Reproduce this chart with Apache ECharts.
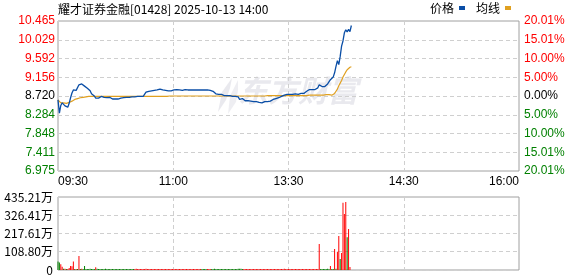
<!DOCTYPE html>
<html>
<head>
<meta charset="utf-8">
<script src="https://cdn.jsdelivr.net/npm/echarts@6/dist/echarts.min.js"></script>
<style>
html,body{margin:0;padding:0;background:#fff;}
#chart{width:578px;height:276px;}
</style>
</head>
<body>
<div id="chart"></div>
<script>
const titleText = '耀才证券金融[01428] 2025-10-13 14:00';
const prevClose = 8.72;
const timeTicks = ['09:30', '11:00', '13:30', '14:30', '16:00'];
const priceTicks = ['6.975', '7.411', '7.848', '8.284', '8.720', '9.156', '9.592', '10.029', '10.465'];
const pctTicks = ['20.01%', '15.01%', '10.00%', '5.00%', '0.00%', '5.00%', '10.00%', '15.01%', '20.01%'];
const volTicks = ['0', '108.80万', '217.61万', '326.41万', '435.21万'];

// minute-by-minute price (from 09:30)
const price = [
  8.63, 8.32, 8.50, 8.56, 8.52, 8.49, 8.50, 8.46, 8.55, 8.68,
  8.79, 8.86, 8.86, 8.85, 8.86, 8.98, 8.96, 9.00, 8.99, 8.95,
  8.92, 8.90, 8.87, 8.84, 8.77, 8.77, 8.72, 8.67, 8.68, 8.67,
  8.70, 8.71, 8.71, 8.69, 8.70, 8.68, 8.67, 8.69, 8.66, 8.65,
  8.63, 8.65, 8.66, 8.65, 8.66, 8.67, 8.67, 8.68, 8.68, 8.69,
  8.69, 8.69, 8.70, 8.70, 8.70, 8.70, 8.71, 8.71, 8.71, 8.71,
  8.71, 8.71, 8.71, 8.81, 8.82, 8.83, 8.84, 8.84, 8.84, 8.85,
  8.84, 8.86, 8.87, 8.88, 8.87, 8.86, 8.86, 8.85, 8.85, 8.84,
  8.85, 8.84, 8.85, 8.86, 8.86, 8.87, 8.86, 8.86, 8.86, 8.85,
  8.86, 8.87, 8.87, 8.86, 8.86, 8.86, 8.85, 8.86, 8.86, 8.86,
  8.87, 8.86, 8.86, 8.86, 8.86, 8.86, 8.86, 8.86, 8.85, 8.85,
  8.84, 8.83, 8.79, 8.77, 8.74, 8.76, 8.74, 8.76, 8.75, 8.73,
  8.74, 8.73, 8.72, 8.73, 8.72, 8.71, 8.72, 8.71, 8.72, 8.70,
  8.64, 8.63, 8.66, 8.62, 8.61, 8.60, 8.61, 8.60, 8.60, 8.59,
  8.59, 8.58, 8.59, 8.58, 8.57, 8.56, 8.56, 8.58, 8.59, 8.59,
  8.59, 8.60, 8.60, 8.62, 8.64, 8.65, 8.66, 8.67, 8.68, 8.69,
  8.71, 8.73, 8.74, 8.76, 8.76, 8.76, 8.76, 8.77, 8.76, 8.76,
  8.77, 8.76, 8.76, 8.77, 8.78, 8.80, 8.78, 8.79, 8.83, 8.87,
  8.87, 8.86, 8.87, 8.87, 8.87, 8.88, 8.91, 8.98, 8.95, 8.94,
  8.95, 8.94, 8.95, 9.00, 9.04, 9.10, 9.13, 9.16, 9.26, 9.41,
  9.54, 9.45, 9.64, 9.88, 10.00, 10.19, 10.26, 10.21, 10.27, 10.22,
  10.36
];

// minute-by-minute average price
const avgPrice = [
  8.63, 8.60, 8.56, 8.56, 8.56, 8.55, 8.55, 8.55, 8.57, 8.59,
  8.60, 8.62, 8.64, 8.65, 8.66, 8.67, 8.68, 8.68, 8.69, 8.70,
  8.70, 8.71, 8.71, 8.71, 8.71, 8.71, 8.71, 8.71, 8.71, 8.71,
  8.71, 8.71, 8.71, 8.71, 8.71, 8.71, 8.71, 8.71, 8.71, 8.71,
  8.71, 8.71, 8.71, 8.71, 8.71, 8.71, 8.71, 8.71, 8.71, 8.71,
  8.71, 8.71, 8.71, 8.71, 8.71, 8.71, 8.71, 8.71, 8.71, 8.71,
  8.71, 8.71, 8.71, 8.71, 8.71, 8.71, 8.71, 8.71, 8.71, 8.71,
  8.71, 8.71, 8.71, 8.71, 8.71, 8.71, 8.71, 8.71, 8.71, 8.71,
  8.72, 8.72, 8.72, 8.72, 8.72, 8.72, 8.72, 8.72, 8.72, 8.72,
  8.72, 8.72, 8.72, 8.72, 8.72, 8.72, 8.72, 8.72, 8.72, 8.72,
  8.72, 8.72, 8.72, 8.72, 8.72, 8.72, 8.72, 8.72, 8.72, 8.72,
  8.72, 8.72, 8.72, 8.72, 8.72, 8.72, 8.72, 8.72, 8.72, 8.72,
  8.72, 8.72, 8.72, 8.72, 8.72, 8.72, 8.72, 8.72, 8.72, 8.72,
  8.72, 8.72, 8.72, 8.72, 8.72, 8.72, 8.72, 8.72, 8.72, 8.72,
  8.72, 8.72, 8.72, 8.72, 8.72, 8.72, 8.72, 8.72, 8.72, 8.72,
  8.73, 8.73, 8.73, 8.73, 8.73, 8.73, 8.73, 8.73, 8.73, 8.73,
  8.73, 8.73, 8.73, 8.73, 8.73, 8.73, 8.73, 8.73, 8.73, 8.73,
  8.73, 8.73, 8.73, 8.73, 8.73, 8.73, 8.73, 8.73, 8.73, 8.73,
  8.74, 8.74, 8.74, 8.74, 8.74, 8.74, 8.74, 8.74, 8.74, 8.74,
  8.74, 8.75, 8.75, 8.75, 8.75, 8.75, 8.74, 8.76, 8.78, 8.83,
  8.88, 8.96, 9.02, 9.08, 9.16, 9.22, 9.28, 9.33, 9.37, 9.39,
  9.40
];

// minute volume (万)
const volume = [
  50, 45, 34, 20, 7, 8, 6, 5, 12, 24,
  22, 50, 6, 6, 5, 83, 6, 8, 6, 24,
  6, 6, 5, 7, 6, 5, 6, 16, 7, 5,
  6, 5, 6, 5, 7, 5, 6, 5, 6, 5,
  5, 6, 5, 6, 5, 5, 6, 5, 5, 6,
  5, 6, 5, 5, 6, 5, 7, 6, 6, 5,
  6, 5, 6, 7, 6, 5, 6, 5, 6, 5,
  6, 5, 5, 6, 5, 6, 5, 5, 6, 5,
  5, 6, 5, 5, 5, 6, 5, 5, 6, 5,
  5, 5, 6, 5, 5, 5, 6, 5, 5, 5,
  5, 5, 5, 5, 6, 5, 5, 5, 5, 5,
  5, 6, 7, 6, 6, 5, 6, 5, 5, 5,
  5, 5, 5, 5, 6, 5, 5, 5, 6, 7,
  8, 7, 6, 6, 5, 5, 5, 5, 5, 6,
  5, 5, 6, 5, 5, 5, 5, 6, 5, 5,
  5, 5, 5, 5, 6, 5, 5, 5, 5, 6,
  5, 6, 8, 6, 5, 5, 5, 6, 5, 5,
  5, 5, 6, 5, 5, 6, 5, 5, 5, 5,
  5, 5, 5, 6, 5, 5, 6, 155, 6, 6,
  5, 6, 6, 7, 6, 24, 5, 5, 125, 8,
  109, 203, 66, 101, 401, 334, 405, 195, 244, 18
];

// bar colour: 'r' = up, 'g' = down
const volDir = (
  'ggrrgrgrrr' + 'rrgrgrgrgg' + 'gggggggrgg' + 'gggggggggg' + 'gggggggggg' +
  'gggggrrrrr' + 'rrrrrrrrrr' + 'rrrrrrrrrr' + 'rrrrrrrrrr' + 'rrrrrrrrrr' +
  'rrrggggrrr' + 'gggggggggg' + 'gggggggggg' + 'gggrrrrrrr' + 'rrrrrrrrrr' +
  'rrrrrrrrrr' + 'rrrrrrrrrr' + 'rrrrrrrrrr' + 'rrrrrrrrgg' + 'gggggrggrg' +
  'rrgrrrrgrr'
).split('');

const RED = '#ff0000', GREEN = '#008000';
const toPct = p => (p / prevClose - 1) * 100;
const PCT_MAX = 20.01, PCT_STEP = 5.0025;
const FONT = "'Liberation Sans', 'Noto Sans CJK SC', sans-serif";
const CJK = "'Noto Sans CJK SC', 'Liberation Sans', sans-serif";
const tickIdx = v => Math.round((Number(v) + PCT_MAX) / PCT_STEP);
const tickColor = v => { const i = tickIdx(v); return i > 4 ? RED : (i < 4 ? GREEN : '#000'); };

const chart = echarts.init(document.getElementById('chart'), null, {renderer: 'canvas'});
const dash = {color: '#cfcfcf', type: [4, 3], width: 1};

chart.setOption({
  animation: false,
  backgroundColor: '#fff',
  title: {
    text: titleText, left: 58, top: 3, padding: 0,
    textStyle: {fontSize: 12, fontWeight: 'normal', color: '#000', fontFamily: CJK}
  },
  legend: {
    right: 67, top: 2, padding: 0, icon: 'rect', itemWidth: 6, itemHeight: 4,
    align: 'right', itemGap: 11,
    textStyle: {fontSize: 12, color: '#000', fontFamily: CJK},
    data: ['价格', '均线']
  },
  graphic: [
    {
      type: 'text', left: 238, top: 76, z: 0, silent: true,
      style: {text: '东方财富', fontSize: 30, fontStyle: 'italic', fontWeight: 'bold',
        fontFamily: CJK, fill: 'rgba(200,200,212,0.4)'}
    },
    {
      type: 'polygon', z: 0, silent: true,
      shape: {points: [[232, 78], [222, 92], [218, 112], [226, 100], [230, 88]]},
      style: {fill: 'rgba(200,200,212,0.4)'}
    },
    {
      type: 'polygon', z: 0, silent: true,
      shape: {points: [[238, 80], [230, 96], [228, 114], [236, 102], [238, 90]]},
      style: {fill: 'rgba(200,200,212,0.3)'}
    }
  ],
  grid: [
    {left: 58, top: 21, width: 461, height: 150, show: true, borderColor: '#a0a0a0', borderWidth: 1, containLabel: false},
    {left: 58, top: 197, width: 461, height: 73, show: true, borderColor: '#a0a0a0', borderWidth: 1, containLabel: false}
  ],
  xAxis: [
    {
      type: 'value', gridIndex: 0, min: 0, max: 330, interval: 82.5,
      axisLine: {show: false}, axisTick: {show: false},
      splitLine: {show: true, lineStyle: dash},
      axisLabel: {
        margin: 5, fontSize: 12, color: '#000', fontFamily: FONT,
        alignMinLabel: 'left', alignMaxLabel: 'right',
        formatter: v => timeTicks[Math.round(v / 82.5)]
      }
    },
    {
      type: 'value', gridIndex: 1, min: 0, max: 330, interval: 82.5,
      axisLine: {show: false}, axisTick: {show: false},
      splitLine: {show: true, lineStyle: dash},
      axisLabel: {show: false}
    }
  ],
  yAxis: [
    {
      type: 'value', gridIndex: 0, min: -PCT_MAX, max: PCT_MAX, interval: PCT_STEP,
      axisLine: {show: false}, axisTick: {show: false},
      splitLine: {show: true, lineStyle: dash},
      axisLabel: {
        margin: 3, fontSize: 12, fontFamily: FONT,
        color: v => tickColor(v),
        formatter: v => priceTicks[tickIdx(v)]
      }
    },
    {
      type: 'value', gridIndex: 0, position: 'right', min: -PCT_MAX, max: PCT_MAX, interval: PCT_STEP,
      axisLine: {show: false}, axisTick: {show: false}, splitLine: {show: false},
      axisLabel: {
        margin: 5, fontSize: 12, fontFamily: FONT,
        color: v => tickColor(v),
        formatter: v => pctTicks[8 - tickIdx(v)]
      }
    },
    {
      type: 'value', gridIndex: 1, min: 0, max: 435.21, interval: 108.8025,
      axisLine: {show: false}, axisTick: {show: false},
      splitLine: {show: true, lineStyle: dash},
      axisLabel: {
        margin: 5, fontSize: 12, color: '#000', fontFamily: CJK,
        formatter: v => volTicks[Math.round(v / 108.8025)]
      }
    }
  ],
  series: [
    {
      name: '价格', type: 'line', xAxisIndex: 0, yAxisIndex: 0, z: 5,
      showSymbol: false, symbol: 'none',
      lineStyle: {color: '#0a4ea6', width: 1.3},
      itemStyle: {color: '#0a4ea6'},
      data: price.map((p, i) => [i, toPct(p)])
    },
    {
      name: '均线', type: 'line', xAxisIndex: 0, yAxisIndex: 0, z: 4,
      showSymbol: false, symbol: 'none',
      lineStyle: {color: '#e0a020', width: 1.2},
      itemStyle: {color: '#e0a020'},
      data: avgPrice.map((p, i) => [i, toPct(p)])
    },
    {
      name: '成交量', type: 'bar', xAxisIndex: 1, yAxisIndex: 2, barWidth: 1, barMinHeight: 1,
      data: volume.map((v, i) => ({
        value: [i, v],
        itemStyle: {color: volDir[i] === 'r' ? RED : GREEN}
      }))
    }
  ]
});
</script>
</body>
</html>
